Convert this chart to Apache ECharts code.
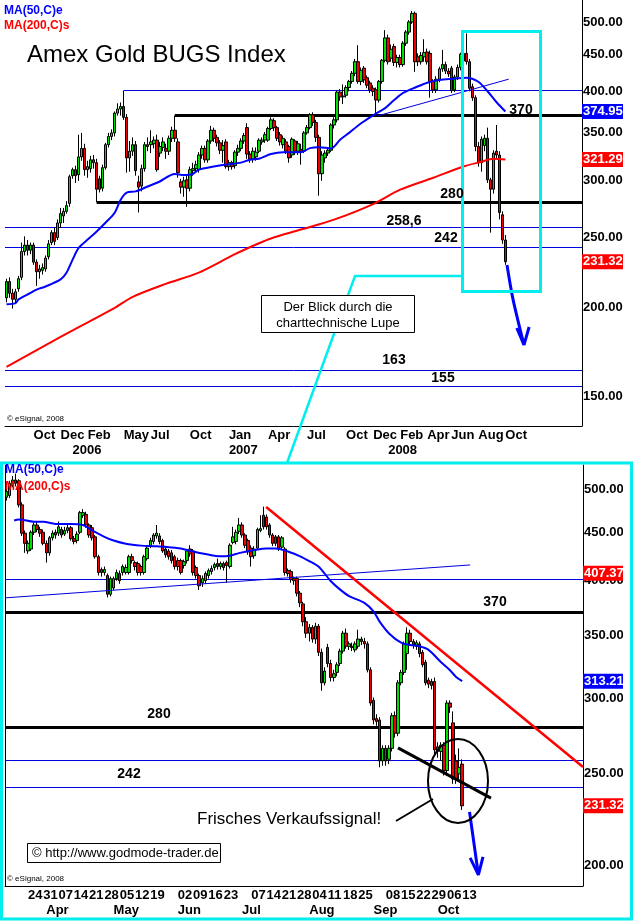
<!DOCTYPE html>
<html><head><meta charset="utf-8">
<script src="https://cdn.jsdelivr.net/npm/echarts@6/dist/echarts.min.js"></script>
<style>html,body{margin:0;padding:0;background:#fff}#c{width:634px;height:921px}</style>
</head><body><div id="c"></div>
<script>
const FONT = '"Liberation Sans", Arial, Helvetica, sans-serif';

// ================= TOP PANEL (weekly, Aug 2005 - Oct 2008) =================
const topStart = '2005-08-01';
const topWeekCount = 192;
// [open, close, low, high]
const topCandles = [
[206,217,203,219],[217,209,206,220],[209,205,199,212],[205,210,202,212],[212,219,210,221],
[220,239,218,246],[239,244,236,251],[244,240,236,248],[240,244,237,246],[244,231,229,246],
[231,224,214,233],[224,226,219,229],[225,227,222,230],[226,234,224,236],[235,245,233,248],
[246,254,244,256],[254,247,244,258],[250,262,248,265],[262,270,258,275],[268,272,262,275],
[272,277,270,281],[279,304,276,306],[305,311,302,313],[311,305,298,315],[306,324,300,348],
[324,333,320,350],[333,311,305,338],[311,314,303,320],[312,321,308,325],[321,318,312,326],
[318,292,280,322],[302,292,289,305],[293,313,290,316],[313,337,311,339],[337,346,334,350],
[346,350,342,354],[350,373,346,375],[373,378,370,385],[378,381,370,386],[381,368,365,401],
[368,323,308,372],[323,330,309,341],[330,337,325,345],[337,310,305,341],[299,294,271,305],
[295,312,290,316],[312,337,309,340],[337,335,330,345],[337,340,328,353],[338,342,333,346],
[342,311,309,348],[328,335,324,340],[334,340,330,345],[333,330,322,338],[330,344,326,347],
[344,353,340,357],[353,344,340,370],[340,308,303,344],[299,294,288,302],[294,300,285,304],
[301,293,276,305],[293,311,290,314],[310,312,305,318],[312,316,308,320],[311,326,308,329],
[326,333,322,336],[333,321,318,336],[321,341,318,343],[341,353,338,358],[353,344,340,356],
[345,339,335,348],[339,331,327,342],[331,336,318,342],[340,314,312,343],[314,318,310,321],
[318,314,311,320],[315,329,312,331],[329,333,325,337],[333,341,330,344],[341,347,338,350],
[356,327,322,361],[327,322,318,330],[322,330,318,334],[324,329,320,334],[330,342,328,344],
[340,342,337,345],[342,348,339,351],[342,355,340,357],[355,365,353,368],[364,356,352,367],
[356,344,341,358],[348,340,336,351],[337,344,333,347],[340,330,327,343],[335,323,318,337],
[326,343,323,345],[341,330,326,343],[330,338,326,341],[332,330,316,338],[330,350,328,352],
[350,356,348,359],[356,371,354,373],[371,362,358,374],[362,345,340,365],[345,307,286,348],
[307,326,300,330],[323,328,318,331],[328,331,325,334],[331,359,329,361],[359,365,355,368],
[365,399,362,401],[399,393,388,403],[393,394,384,409],[395,405,392,408],[405,413,400,415],
[413,424,410,427],[424,440,420,444],[440,413,410,464],[413,428,408,432],[431,415,411,434],
[418,408,404,421],[411,402,398,414],[404,400,394,408],[402,389,370,405],[389,413,386,415],
[413,442,410,444],[442,475,439,487],[475,440,436,480],[445,458,440,465],[462,439,434,466],
[439,446,432,450],[446,436,432,450],[436,467,433,470],[467,484,463,487],[484,500,480,503],
[500,514,497,518],[514,440,426,517],[447,440,434,452],[440,449,436,454],[447,453,440,473],
[454,440,436,459],[452,413,392,456],[413,402,398,416],[402,416,398,420],[416,430,412,433],
[430,436,426,457],[436,427,423,440],[427,423,419,431],[431,401,398,434],[402,419,399,422],
[419,432,415,436],[432,451,428,453],[441,452,438,455],[452,440,436,482],[440,404,400,444],
[406,392,388,410],[392,335,330,395],[335,318,314,340],[318,343,309,346],[336,344,330,348],
[344,301,298,356],[301,292,254,303],[292,328,288,331],[330,326,322,359],[326,271,265,330],
[269,248,245,272],[248,231.32,229,252]
];
// [week index, value]
const topMA50 = [[0,201.7],[3,202.5],[4,204.9],[8,209.2],[10,211.5],[13,213.6],[18,218.5],[20,223.4],[22,232.9],[24,241.8],[27,248.4],[30,254.9],[33,262.4],[36,270.8],[38,282.4],[40,288.8],[43,290],[47,294.6],[51,299.4],[56,306.7],[59,305.7],[62,306.7],[64,311],[69,314.1],[73,316.1],[78,318.1],[81,321.1],[84,322.1],[88,327],[92,329],[98,329],[101,333.3],[104,334.3],[108,333],[111,342.4],[114,350],[118,361],[122,370.4],[126,379],[129,389],[132,398],[136,405],[140,411.3],[144,415],[149,416.6],[153,417.9],[157,412.6],[160,400.5],[163,386.6],[166,374.95]];
const topMA200 = [[0,164.9],[18,181.6],[36,199.4],[42,206.6],[53,215.4],[64,223.4],[76,237],[84,245.5],[88,249.3],[98,256.5],[109,264.8],[122,278.4],[131,291.6],[142,303],[152,314.1],[158,319],[162,322],[166,321.29]];
const topTrend = [[123.4,369.6],[167.1,416]];
const topArrowShaft = [[166.55,228.9],[168.55,204.9],[172.2,177]];
const topArrowHead = [[169.8,186.9],[172.2,177],[173.9,187.5]];
const topTicks = [150,200,250,300,350,400,450,500];
const topBadgeValues = [374.954, 321.295, 231.32];
const topFullLevels = [258.6, 242, 163, 155];
const topBlueSeg = [39, 401];
const topBlackSegs = [[56, 370], [30, 280]];
const topMonthDates = ['2005-10-03','2005-12-05','2006-02-06','2006-05-01','2006-07-03','2006-10-02','2007-01-01','2007-04-02','2007-07-02','2007-10-01','2007-12-03','2008-02-04','2008-04-07','2008-06-02','2008-08-04','2008-10-06'];
const topMonthLabels = ['Oct','Dec','Feb','May','Jul','Oct','Jan','Apr','Jul','Oct','Dec','Feb','Apr','Jun','Aug','Oct'];
const topYearDates = ['2006-01-02','2007-01-01','2008-01-07'];
const topYearLabels = ['2006','2007','2008'];

// ================= BOTTOM PANEL (daily, Mar 2008 - Oct 2008) =================
const botStart = '2008-03-12';
const botDayCount = 189;
const botFirstBar = -7; // bars counted from 2008-03-24
const holidays = ['2008-03-21','2008-05-26','2008-07-04','2008-09-01','2008-11-27'];
const botCandles = [
[490,497,486,500],[492,507,489,510],[505,511,502,516],[511,507,503,519],[510,481,478,512],
[481,449,446,484],[449,438,428,452],[430,438,427,441],[432,450,430,452],[450,458,447,461],
[458,453,450,462],[453,449,445,456],[450,438,436,453],[438,428,418,441],[428,444,425,446],
[444,449,441,452],[450,447,443,453],[449,456,446,462],[453,447,444,456],[448,452,446,456],
[452,455,449,460],[455,443,441,457],[443,440,437,446],[441,448,438,451],[450,472,448,474],
[469,472,466,476],[470,458,455,473],[458,447,444,460],[455,444,441,458],[445,424,422,447],
[424,408,405,426],[411,408,404,413],[408,411,405,414],[405,387,384,407],[387,402,385,404],
[393,402,391,404],[402,408,400,411],[407,400,397,410],[408,414,405,416],[408,413,406,416],
[408,424,406,426],[424,420,417,427],[418,414,410,420],[417,408,405,419],[414,408,405,416],
[408,424,406,426],[422,433,420,436],[435,441,433,444],[440,447,437,449],[446,449,443,458],
[446,440,437,449],[441,430,428,443],[432,426,423,434],[430,424,421,432],[428,420,417,431],
[424,414,411,426],[420,414,410,423],[420,408,406,422],[415,419,412,421],[420,430,417,432],
[432,427,424,436],[430,408,405,432],[413,405,402,415],[405,395,391,407],[398,402,394,405],
[400,407,397,409],[405,410,402,412],[409,412,406,415],[413,416,410,418],[417,414,411,422],
[414,417,411,419],[417,413,410,419],[418,415,398,420],[414,436,412,438],[439,445,437,456],
[440,450,437,453],[451,458,448,466],[458,447,444,461],[447,436,433,449],[441,429,426,443],
[433,424,414,436],[425,432,422,435],[433,453,431,455],[452,454,450,469],[469,456,453,479],
[467,456,453,470],[458,447,444,460],[447,438,435,449],[445,438,435,447],[445,433,430,447],
[434,444,431,446],[432,408,405,434],[410,407,404,412],[409,401,398,411],[402,400,396,404],
[402,388,385,404],[388,379,375,390],[378,362,358,380],[362,352,348,366],[352,357,345,360],
[357,347,344,359],[347,358,343,361],[358,336,333,360],[336,312,306,339],[312,321,310,324],
[340,327,324,343],[327,316,313,330],[316,319,313,322],[320,326,317,328],[327,337,325,339],
[337,352,335,354],[352,341,339,356],[341,343,338,345],[341,340,337,344],[338,343,336,345],
[341,347,339,355],[347,345,342,349],[345,343,339,348],[343,322,320,345],[322,297,295,324],
[299,285,282,301],[286,284,281,289],[285,258,254,287],[258,266,255,268],[266,258,255,268],
[259,266,256,268],[266,288,264,290],[288,276,273,291],[276,312,274,314],[312,320,310,322],
[320,343,318,345],[335,352,322,357],[352,345,342,355],[345,342,339,347],[341,344,338,346],
[343,335,332,345],[336,326,324,338],[328,312,310,330],[314,311,308,316],[313,310,307,315],
[313,265,262,316],[267,264,260,270],[264,268,258,270],[268,252,249,270],[252,297,249,299],
[297,294,290,299],[283,247,244,291],[258,247,244,262],[250,254,246,266],[256,231.32,229,259]
];
// [bar number from 2008-03-24, value]
const botMA50 = [[-4.5,463],[-3,464.3],[2,461.7],[5,461.7],[9,459.2],[14,459.2],[18,458],[21,452],[25,445],[28,441],[32,437.6],[37,435.6],[41,435],[45,434.3],[50,432.6],[54,429.4],[58,426.8],[63,424.4],[66,425],[69,427.7],[74,430.9],[78,432.6],[81,432.6],[85,429.4],[89,424.4],[92,419.5],[95,414],[99,399.7],[102,391.6],[105,385.3],[110,379],[113,371.2],[115,362],[118,352],[122,344],[125,342],[128,341],[131,338],[135,328.2],[138,321.7],[140,316.5],[142,313.21]];
const botRedTrend = [[77.9,478.6],[181.5,254.2]];
const botBlueTrend = [[-7.5,383.6],[144.6,415.6]];
const botBlackTrend = [[121.0,266.3],[151.4,235.7]];
const botArrowShaft = [[144.4,227.9],[147.3,195.5]];
const botArrowHead = [[144.6,203.8],[147.3,195.5],[148.8,204.3]];
const botTicks = [200,250,300,350,400,450,500];
const botBadgeValues = [407.37, 313.21, 231.32];
const botBlueLevels = [401, 258.6, 242];
const botBlackLevels = [370, 280];
const botDayDates = ['2008-03-24','2008-03-31','2008-04-07','2008-04-14','2008-04-21','2008-04-28','2008-05-05','2008-05-12','2008-05-19','2008-06-02','2008-06-09','2008-06-16','2008-06-23','2008-07-07','2008-07-14','2008-07-21','2008-07-28','2008-08-04','2008-08-11','2008-08-18','2008-08-25','2008-09-08','2008-09-15','2008-09-22','2008-09-29','2008-10-06','2008-10-13'];
const botDayLabels = ['24','31','07','14','21','28','05','12','19','02','09','16','23','07','14','21','28','04','11','18','25','08','15','22','29','06','13'];
const botMonthDates = ['2008-04-01','2008-05-01','2008-06-02','2008-07-01','2008-08-01','2008-09-02','2008-10-01'];
const botMonthLabels = ['Apr','May','Jun','Jul','Aug','Sep','Oct'];

// ---------- helpers ----------
function iso(d){ return d.toISOString().slice(0,10); }
function weekly(start, n){
  const out=[]; const d=new Date(start+'T00:00:00Z');
  for(let i=0;i<n;i++){ out.push(iso(d)); d.setUTCDate(d.getUTCDate()+7); }
  return out;
}
function tradingDays(start, n){
  const out=[]; const d=new Date(start+'T00:00:00Z');
  while(out.length<n){
    const wd=d.getUTCDay(); const s=iso(d);
    if(wd!==0 && wd!==6 && holidays.indexOf(s)<0) out.push(s);
    d.setUTCDate(d.getUTCDate()+1);
  }
  return out;
}
function toMap(keys, vals){ const m={}; keys.forEach((k,i)=>m[k]=vals[i]); return m; }
function priceText(v){ const s=String(v); const d=(s.split('.')[1]||'').length; return d>=2 ? s : Number(v).toFixed(2); }

const topCats = weekly(topStart, topWeekCount);
const botCats = tradingDays(botStart, botDayCount);
const topMonthMap = toMap(topMonthDates, topMonthLabels);
const topYearMap = toMap(topYearDates, topYearLabels);
const botDayMap = toMap(botDayDates, botDayLabels);
const botMonthMap = toMap(botMonthDates, botMonthLabels);

const axisTxt = {color:'#000', fontWeight:'bold', fontSize:13, fontFamily:FONT};
function catAxis(grid, cats, map, offset, showLine){
  return {
    type:'category', gridIndex:grid, data:cats, boundaryGap:true, position:'bottom', offset:offset,
    axisLine:{show:showLine, onZero:false, lineStyle:{color:'#000', width:1}},
    axisTick:{show:false}, splitLine:{show:false},
    axisLabel:Object.assign({interval:(i,v)=>Object.prototype.hasOwnProperty.call(map,v), formatter:v=>map[v]||'', align:'left', margin:3}, axisTxt)
  };
}
function logAxis(grid, mn, mx){
  return {type:'log', logBase:10, gridIndex:grid, min:mn, max:mx, position:'right',
    axisLine:{show:true, onZero:false, lineStyle:{color:'#000', width:1}},
    axisTick:{show:false}, axisLabel:{show:false}, splitLine:{show:false}};
}
const candleStyle = {color:'#00e000', color0:'#f00000', borderColor:'#000', borderColor0:'#000', borderWidth:1};
function lineSeries(xi, yi, data, color, width, z, smooth){
  return {type:'line', xAxisIndex:xi, yAxisIndex:yi, data:data, symbol:'none', smooth:smooth||false,
    lineStyle:{color:color, width:width}, z:z, silent:true};
}
const HIDDEN_LINE = {color:'rgba(0,0,0,0)', width:1, type:'solid'};
function tickSeries(xi, yi, ticks){
  return {type:'line', xAxisIndex:xi, yAxisIndex:yi, data:[], z:5, silent:true,
    markLine:{silent:true, symbol:['none','none'], z:5, precision:2, lineStyle:HIDDEN_LINE,
      label:Object.assign({show:true, position:'end', distance:1, formatter:p=>Number(p.value).toFixed(2)}, axisTxt),
      data:ticks.map(v=>({yAxis:v}))}};
}
function badgeSeries(xi, yi, vals, colors){
  return {type:'line', xAxisIndex:xi, yAxisIndex:yi, data:[], z:8, silent:true,
    markLine:{silent:true, symbol:['none','none'], z:8, precision:3, lineStyle:HIDDEN_LINE,
      label:{show:true, position:'end', distance:0, formatter:p=>priceText(p.value), color:'#fff', fontWeight:'bold', fontSize:13, fontFamily:FONT, padding:[1,2,1,1]},
      data:vals.map((v,i)=>({yAxis:v, label:{backgroundColor:colors[i]}}))}};
}
function levelSeries(xi, yi, items){
  return {type:'line', xAxisIndex:xi, yAxisIndex:yi, data:[], z:1, silent:true,
    markLine:{silent:true, symbol:['none','none'], z:1, label:{show:false}, data:items}};
}
const BLUE_THIN = {color:'#0000e0', width:1, type:'solid'};
const BLACK_THICK = {color:'#000', width:3, type:'solid'};
const TOP_XMAX = topWeekCount - 0.5;
const BOT_XMIN = botFirstBar - 0.5, BOT_XMAX = botFirstBar + botDayCount - 0.5;

const topLevelItems = topFullLevels.map(v=>({yAxis:v, lineStyle:BLUE_THIN}))
  .concat([[{coord:[topBlueSeg[0], topBlueSeg[1]], lineStyle:BLUE_THIN},{coord:[TOP_XMAX, topBlueSeg[1]]}]])
  .concat(topBlackSegs.map(s=>[{coord:[s[0],s[1]], lineStyle:BLACK_THICK},{coord:[TOP_XMAX,s[1]]}]));
const botLevelItems = botBlueLevels.map(v=>({yAxis:v, lineStyle:BLUE_THIN}))
  .concat(botBlackLevels.map(v=>({yAxis:v, lineStyle:BLACK_THICK})));

const CYAN = '#00eeee';
function txt(x,y,t,font,fill,align){ return {type:'text', x:x, y:y, z:100, style:{text:t, font:font, fill:fill||'#000', align:align||'left', verticalAlign:'middle'}}; }
const B14 = 'bold 14px '+FONT;

const option = {
  animation:false, backgroundColor:'#fff',
  grid:[{left:5, right:52, top:0, bottom:495}, {left:5, right:51, top:465, bottom:35}],
  xAxis:[
    catAxis(0, topCats, topMonthMap, 0, true),
    catAxis(0, topCats, topYearMap, 15, false),
    {type:'value', gridIndex:0, min:-0.5, max:TOP_XMAX, show:false},
    catAxis(1, botCats, botDayMap, 0, true),
    catAxis(1, botCats, botMonthMap, 15, false),
    {type:'value', gridIndex:1, min:BOT_XMIN, max:BOT_XMAX, show:false}
  ],
  yAxis:[ logAxis(0, 136.4, 536.6), logAxis(1, 190.3, 530) ],
  series:[
    levelSeries(2, 0, topLevelItems),
    {type:'candlestick', xAxisIndex:0, yAxisIndex:0, data:topCandles, barWidth:3, itemStyle:candleStyle, z:2, silent:true},
    lineSeries(2, 0, topMA200, '#ff0000', 2, 3, 0.3),
    lineSeries(2, 0, topMA50, '#0000ff', 2, 3, 0.3),
    lineSeries(2, 0, topTrend, '#0000e0', 1, 4),
    lineSeries(2, 0, topArrowShaft, '#0000ff', 3, 5, 0.3),
    lineSeries(2, 0, topArrowHead, '#0000ff', 3, 5),
    tickSeries(2, 0, topTicks),
    badgeSeries(2, 0, topBadgeValues, ['#0000ff','#ff0000','#ff0000']),

    levelSeries(5, 1, botLevelItems),
    {type:'candlestick', xAxisIndex:3, yAxisIndex:1, data:botCandles, barWidth:3, itemStyle:candleStyle, z:2, silent:true},
    lineSeries(5, 1, botMA50, '#0000ff', 2, 3, 0.3),
    lineSeries(5, 1, botBlueTrend, '#0000e0', 1, 4),
    lineSeries(5, 1, botRedTrend, '#ff0000', 2.5, 4),
    lineSeries(5, 1, botBlackTrend, '#000', 3, 4),
    lineSeries(5, 1, botArrowShaft, '#0000ff', 3, 5),
    lineSeries(5, 1, botArrowHead, '#0000ff', 3, 5),
    tickSeries(5, 1, botTicks),
    badgeSeries(5, 1, botBadgeValues, ['#ff0000','#0000ff','#ff0000'])
  ],
  graphic:{elements:[
    {type:'rect', z:90, shape:{x:623, y:0, width:11, height:462}, style:{fill:'#fff'}},
    {type:'rect', z:90, shape:{x:623, y:463, width:3, height:456}, style:{fill:'#fff'}},
    txt(4, 10.5, 'MA(50,C)e', 'bold 12px '+FONT, '#0000ff'),
    txt(4, 26, 'MA(200,C)s', 'bold 12px '+FONT, '#ff0000'),
    txt(27, 55, 'Amex Gold BUGS Index', '24px '+FONT, '#000'),
    txt(521, 110, '370', B14, '#000', 'center'),
    txt(452, 194, '280', B14, '#000', 'center'),
    txt(404, 221, '258,6', B14, '#000', 'center'),
    txt(446, 238, '242', B14, '#000', 'center'),
    txt(394, 360, '163', B14, '#000', 'center'),
    txt(443, 378, '155', B14, '#000', 'center'),
    txt(7, 419, '\u00a9 eSignal, 2008', '8px '+FONT, '#000'),
    {type:'rect', z:95, shape:{x:462.5, y:31.5, width:78, height:260}, style:{fill:'none', stroke:CYAN, lineWidth:3}},
    {type:'polyline', z:95, shape:{points:[[462,276],[355,276],[287,463]]}, style:{fill:'none', stroke:CYAN, lineWidth:2.5}},
    {type:'rect', z:96, shape:{x:261.5, y:295.5, width:153, height:37}, style:{fill:'#fff', stroke:'#000', lineWidth:1}},
    txt(338, 307, 'Der Blick durch die', '13px '+FONT, '#000', 'center'),
    txt(338, 323, 'charttechnische Lupe', '13px '+FONT, '#000', 'center'),
    {type:'rect', z:97, shape:{x:1.5, y:463, width:630, height:456}, style:{fill:'none', stroke:CYAN, lineWidth:3}},
    {type:'line', z:97, shape:{x1:5.5, y1:465, x2:5.5, y2:886}, style:{stroke:'#000', lineWidth:1}},
    txt(5, 470, 'MA(50,C)e', 'bold 12px '+FONT, '#0000ff'),
    txt(5, 487, 'MA(200,C)s', 'bold 12px '+FONT, '#ff0000'),
    txt(495, 602, '370', B14, '#000', 'center'),
    txt(159, 714, '280', B14, '#000', 'center'),
    txt(129, 774, '242', B14, '#000', 'center'),
    {type:'ellipse', z:98, shape:{cx:458, cy:781, rx:30, ry:42}, style:{fill:'none', stroke:'#000', lineWidth:2}},
    {type:'line', z:98, shape:{x1:433, y1:799, x2:396, y2:821}, style:{stroke:'#000', lineWidth:2}},
    txt(197, 819, 'Frisches Verkaufssignal!', '17px '+FONT, '#000'),
    {type:'rect', z:98, shape:{x:27.5, y:843.5, width:193, height:19}, style:{fill:'#fff', stroke:'#000', lineWidth:1}},
    txt(32, 853.5, '\u00a9 http://www.godmode-trader.de', '13px '+FONT, '#000'),
    txt(7, 879, '\u00a9 eSignal, 2008', '8px '+FONT, '#000')
  ]}
};
const chart = echarts.init(document.getElementById('c'), null, {renderer:'canvas'});
chart.setOption(option);
</script></body></html>
